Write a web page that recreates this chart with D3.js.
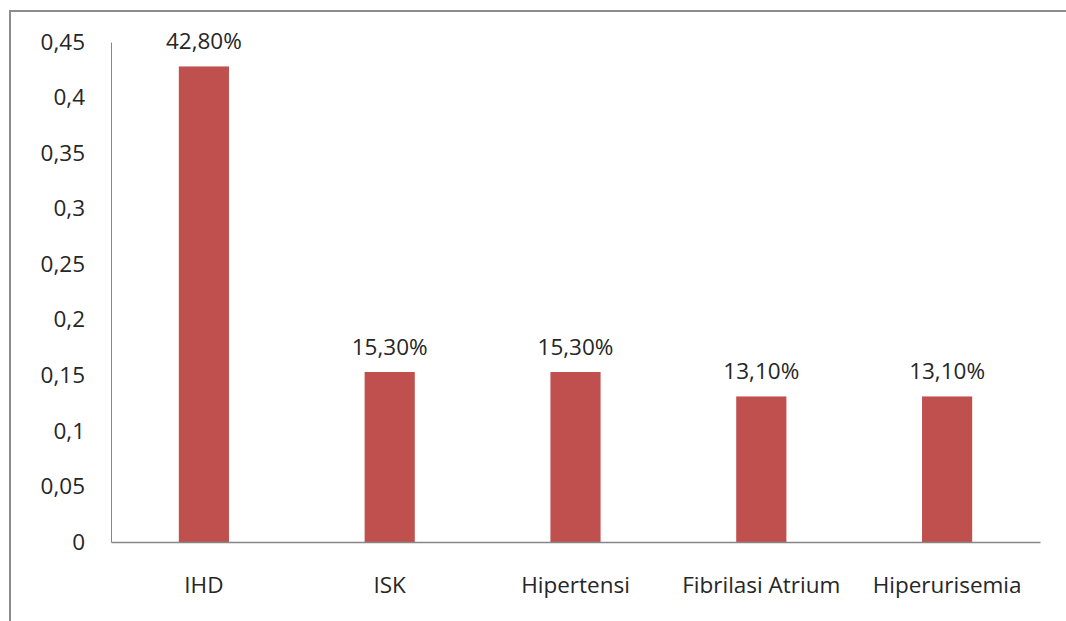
<!DOCTYPE html>
<html>
<head>
<meta charset="utf-8">
<script src="https://cdn.jsdelivr.net/npm/d3@7"></script>
<style>
  html, body { margin: 0; padding: 0; background: #fff; }
  svg { display: block; }
  text { font-family: "Open Sans", "Noto Sans", sans-serif; fill: #262626; }
</style>
</head>
<body>
<svg id="chart" width="1066" height="621"></svg>
<script>
// Data
const categories = ["IHD", "ISK", "Hipertensi", "Fibrilasi Atrium", "Hiperurisemia"];
const values = [0.428, 0.153, 0.153, 0.131, 0.131];
const valueLabels = ["42,80%", "15,30%", "15,30%", "13,10%", "13,10%"];
const yTicks = [0, 0.05, 0.1, 0.15, 0.2, 0.25, 0.3, 0.35, 0.4, 0.45];

const svg = d3.select("#chart");
const W = 1066, H = 621;
const plot = { left: 111, right: 1040, top: 42, bottom: 542 };
const FS = 22.5;

// Outer frame (open to the right and bottom edges)
svg.append("rect")
  .attr("x", 10).attr("y", 11)
  .attr("width", W + 20).attr("height", H + 20)
  .attr("fill", "#fff")
  .attr("stroke", "#8c8c8c")
  .attr("stroke-width", 2);

const x = d3.scaleBand()
  .domain(categories)
  .range([plot.left, plot.right])
  .paddingInner(0.73)
  .paddingOuter(0.365);

const y = d3.scaleLinear()
  .domain([0, 0.45])
  .range([plot.bottom, plot.top]);

const fmt = d => d3.format("")(d).replace(".", ",");

// Y axis
const yAxis = svg.append("g")
  .attr("transform", `translate(${plot.left},0)`)
  .call(d3.axisLeft(y).tickValues(yTicks).tickFormat(fmt).tickSize(0).tickPadding(26));
yAxis.select(".domain").attr("stroke", "#868686").attr("stroke-width", 1);
yAxis.selectAll("text").attr("font-size", FS).attr("fill", "#262626")
  .style("font-family", "'Open Sans', sans-serif");

// Bars
svg.append("g").selectAll("rect")
  .data(values)
  .join("rect")
  .attr("x", (d, i) => x(categories[i]))
  .attr("y", d => y(d))
  .attr("width", x.bandwidth())
  .attr("height", d => y(0) - y(d))
  .attr("fill", "#C0504D");

// Value labels
svg.append("g").selectAll("text")
  .data(values)
  .join("text")
  .attr("x", (d, i) => x(categories[i]) + x.bandwidth() / 2)
  .attr("y", d => y(d) - 17)
  .attr("text-anchor", "middle")
  .attr("font-size", FS)
  .text((d, i) => valueLabels[i]);

// X axis
const xAxis = svg.append("g")
  .attr("transform", `translate(0,${plot.bottom})`)
  .call(d3.axisBottom(x).tickSize(0).tickPadding(0));
xAxis.select(".domain").attr("stroke", "#868686").attr("stroke-width", 1.5);
xAxis.selectAll("text")
  .attr("font-size", FS)
  .attr("fill", "#262626")
  .attr("dy", null)
  .attr("y", 51)
  .style("font-family", "'Open Sans', sans-serif");
</script>
</body>
</html>
